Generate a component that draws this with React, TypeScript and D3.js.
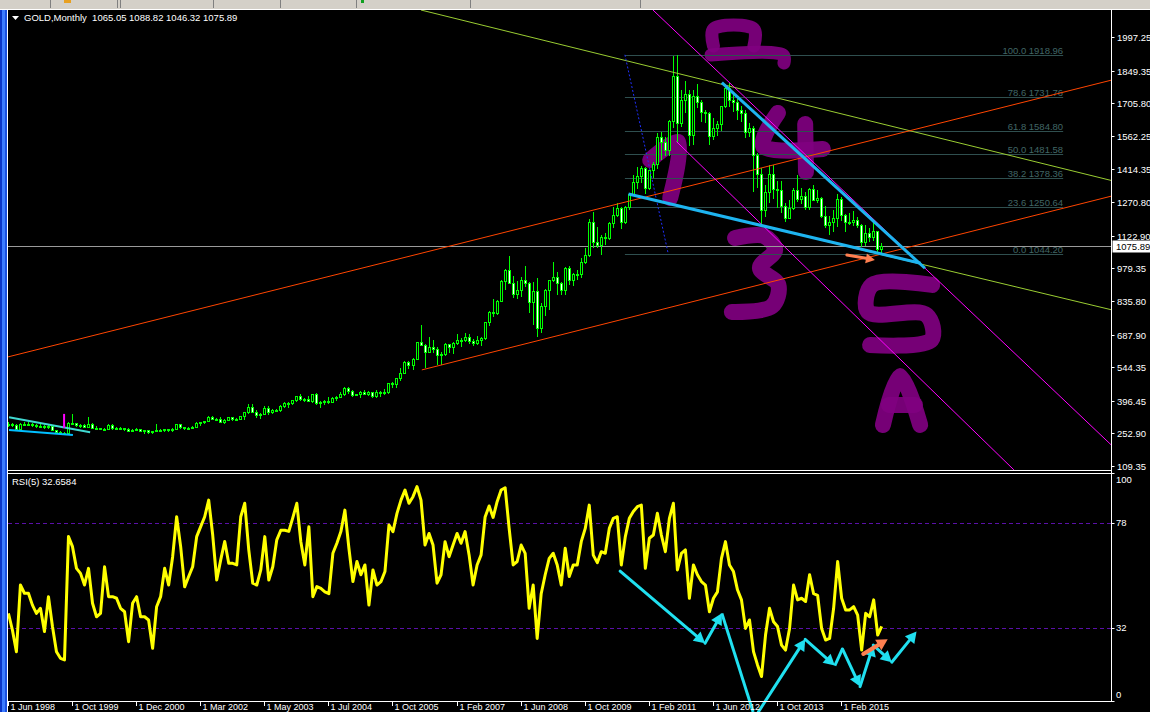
import React, { useEffect, useRef } from 'react';
import * as d3 from 'd3';

const W = 1150;
const H = 712;
const FONT = "'Liberation Sans', Arial, sans-serif";

// x axis labels, one every 16 bars
const dateLabels = [
  '1 Jun 1998', '1 Oct 1999', '1 Dec 2000', '1 Mar 2002', '1 May 2003', '1 Jul 2004', '1 Oct 2005',
  '1 Feb 2007', '1 Jun 2008', '1 Oct 2009', '1 Feb 2011', '1 Jun 2012', '1 Oct 2013', '1 Feb 2015',
];
const priceTicks = [1997.25, 1849.35, 1705.8, 1562.25, 1414.35, 1270.8, 1122.9, 979.35, 835.8, 687.9, 544.35, 396.45, 252.9, 109.35];
const rsiTicks = [100, 78, 32, 0];
const rsiLevels = [78, 32];

// monthly GOLD bars (index 0 = Jun 1998, last = Dec 2015)
const opens = [
  293, 296, 288, 273, 294, 292, 294, 288, 287, 287, 279, 286, 268, 261, 255, 254, 299,
  299, 291, 290, 283, 293, 277, 275, 274, 272, 288, 277, 277, 276, 273, 264, 269,
  273, 265, 267, 258, 264, 267, 269, 270, 266, 273, 293, 279, 275, 277, 282, 297,
  302, 308, 326, 318, 316, 304, 312, 324, 317, 317, 328, 347, 367, 347, 334, 339,
  364, 346, 354, 357, 375, 388, 386, 398, 416, 402, 404, 396, 427, 388, 393, 395,
  391, 407, 415, 428, 453, 438, 422, 426, 435, 428, 435, 417, 435, 429, 433, 473,
  470, 495, 517, 568, 556, 582, 654, 643, 613, 632, 623, 598, 604, 646, 632, 650,
  665, 662, 679, 659, 650, 665, 672, 743, 789, 783, 834, 923, 972, 916, 865, 886,
  928, 914, 832, 880, 718, 815, 882, 928, 942, 916, 883, 979, 927, 955, 955, 1008,
  1040, 1182, 1096, 1081, 1118, 1113, 1180, 1212, 1245, 1181, 1248, 1307, 1359, 1386, 1421, 1333,
  1411, 1439, 1556, 1536, 1500, 1628, 1826, 1620, 1722, 1746, 1566, 1737, 1710, 1669, 1664, 1561,
  1598, 1614, 1692, 1773, 1719, 1713, 1675, 1663, 1579, 1596, 1476, 1393, 1234, 1313, 1396, 1327,
  1323, 1253, 1202, 1244, 1326, 1284, 1296, 1250, 1327, 1282, 1287, 1210, 1171, 1182, 1199, 1283,
  1212, 1183, 1183, 1190, 1172, 1095, 1134, 1115, 1142, 1065.05,
];
const highs = [
  301, 299, 292, 300, 303, 301, 298, 293, 292, 290, 292, 290, 269, 263, 258, 303, 338,
  300, 292, 293, 325, 298, 284, 278, 278, 294, 292, 279, 280, 278, 275, 270, 276,
  273, 268, 269, 265, 293, 272, 274, 272, 278, 294, 294, 282, 281, 285, 301, 304,
  309, 328, 330, 322, 327, 315, 325, 325, 322, 330, 349, 383, 382, 354, 341, 372,
  372, 362, 362, 377, 390, 391, 400, 418, 427, 410, 416, 428, 429, 395, 400, 411,
  413, 419, 434, 456, 456, 443, 428, 439, 446, 438, 436, 442, 438, 448, 476, 479,
  497, 540, 573, 573, 585, 654, 730, 645, 677, 663, 634, 610, 650, 648, 657, 690,
  673, 693, 690, 668, 683, 675, 745, 790, 845, 841, 930, 976, 1033, 944, 924, 941,
  988, 917, 919, 935, 825, 889, 930, 1006, 961, 917, 983, 990, 960, 970, 1024, 1070,
  1195, 1227, 1162, 1128, 1135, 1181, 1249, 1266, 1247, 1254, 1308, 1388, 1424, 1431, 1424, 1411,
  1447, 1575, 1577, 1556, 1632, 1912, 1918.96, 1764, 1803, 1763, 1764, 1792, 1720, 1676, 1668, 1641,
  1629, 1695, 1790, 1796, 1755, 1723, 1694, 1676, 1617, 1605, 1487, 1420, 1348, 1433, 1434, 1362,
  1362, 1267, 1279, 1332, 1392, 1331, 1315, 1332, 1345, 1322, 1291, 1255, 1209, 1238, 1307, 1293,
  1220, 1224, 1232, 1204, 1174, 1170, 1157, 1191, 1142, 1088.82,
];
const lows = [
  285, 285, 272, 273, 288, 290, 285, 283, 283, 278, 278, 266, 256, 252, 252, 252, 294,
  287, 280, 281, 282, 276, 270, 272, 268, 270, 274, 270, 273, 268, 263, 263, 268,
  263, 255, 255, 256, 263, 265, 265, 265, 264, 271, 277, 270, 271, 276, 281, 288,
  299, 306, 314, 313, 302, 300, 310, 311, 314, 316, 317, 343, 346, 323, 319, 337,
  339, 342, 350, 351, 371, 370, 381, 394, 399, 397, 396, 390, 384, 371, 382, 387,
  389, 398, 413, 424, 432, 418, 420, 411, 425, 422, 414, 414, 418, 428, 432, 457,
  458, 488, 517, 541, 537, 581, 640, 543, 610, 612, 560, 560, 597, 609, 607, 648,
  637, 661, 649, 640, 648, 643, 669, 730, 768, 779, 834, 888, 915, 853, 848, 858,
  901, 786, 736, 681, 701, 772, 802, 924, 866, 865, 867, 910, 905, 932, 941, 1003,
  1034, 1075, 1071, 1044.2, 1087, 1110, 1163, 1208, 1157, 1178, 1242, 1305, 1334, 1360, 1309, 1329,
  1381, 1419, 1462, 1478, 1478, 1600, 1535, 1604, 1669, 1523, 1527, 1689, 1628, 1625, 1527, 1547,
  1565, 1587, 1691, 1693, 1672, 1636, 1627, 1555, 1562, 1321, 1338, 1180, 1208, 1270, 1290, 1251,
  1227, 1187, 1202, 1239, 1277, 1268, 1240, 1240, 1282, 1273, 1207, 1160, 1131, 1142, 1167, 1191,
  1142, 1175, 1169, 1162, 1077, 1080, 1098, 1106, 1052, 1046.32,
];
const closes = [
  296, 288, 273, 294, 292, 294, 288, 287, 287, 279, 286, 268, 261, 255, 254, 299, 299,
  291, 290, 283, 293, 277, 275, 274, 272, 288, 277, 277, 276, 273, 264, 269, 273,
  265, 267, 258, 264, 267, 269, 270, 266, 273, 293, 279, 275, 277, 282, 297, 302,
  308, 326, 318, 316, 304, 312, 324, 317, 317, 328, 347, 367, 347, 334, 339, 364,
  346, 354, 357, 375, 388, 386, 398, 416, 402, 404, 396, 427, 388, 393, 395, 391,
  407, 415, 428, 453, 438, 422, 426, 435, 428, 435, 417, 435, 429, 433, 473, 470,
  495, 517, 568, 556, 582, 654, 643, 613, 632, 623, 598, 604, 646, 632, 650, 665,
  662, 679, 659, 650, 665, 672, 743, 789, 783, 834, 923, 972, 916, 865, 886, 928,
  914, 832, 880, 718, 815, 882, 928, 942, 916, 883, 979, 927, 955, 955, 1008, 1040,
  1182, 1096, 1081, 1118, 1113, 1180, 1212, 1245, 1181, 1248, 1307, 1359, 1386, 1421, 1333, 1411,
  1439, 1556, 1536, 1500, 1628, 1826, 1620, 1722, 1746, 1566, 1737, 1710, 1669, 1664, 1561, 1598,
  1614, 1692, 1773, 1719, 1713, 1675, 1663, 1579, 1596, 1476, 1393, 1234, 1313, 1396, 1327, 1323,
  1253, 1202, 1244, 1326, 1284, 1296, 1250, 1327, 1282, 1287, 1210, 1171, 1182, 1199, 1283, 1212,
  1183, 1183, 1190, 1172, 1095, 1134, 1115, 1142, 1065, 1075.89,
];

// RSI(5)
const rsiValues = [
  38.4, 31.1, 21.6, 50.8, 47.2, 47.2, 42, 38.4, 40.6, 30.4, 45.7, 32.6, 21.6, 18.7, 18, 72, 67.6,
  58.1, 55.9, 50.8, 58.1, 42.8, 36.9, 38.4, 58.8, 45.7, 45.7, 45, 40.6, 39.1, 26, 42.8, 45.7,
  36.9, 36.9, 35.5, 23.1, 41.3, 45.7, 58.1, 50.8, 63.2, 80.7, 67.6, 50, 54.5, 58.8, 72, 76.4,
  80.7, 88, 72.7, 53, 61.8, 69.9, 60.3, 60.3, 59.6, 80.7, 86.6, 66.2, 51.6, 50.8, 57.4, 72,
  53, 58.8, 70.6, 74.8, 74.8, 74.3, 80.3, 86.6, 69.8, 59.6, 76.3, 45.7, 50.1, 49.3, 47.8, 47,
  64.7, 69.1, 74.2, 83.6, 66.9, 52.3, 61.1, 55.3, 59.6, 42, 57.4, 50.8, 52.3, 56.7, 77.1, 74.2,
  82.2, 88, 92.4, 86.6, 89.5, 93.9, 88, 68.3, 73.4, 68.3, 51.6, 55.3, 69.8, 63.2, 68.3, 73.4,
  69.1, 74.2, 64, 50.8, 59.6, 64, 80.6, 85.4, 80.4, 87.3, 92.4, 93.4, 75.6, 59.6, 61.1, 68.3,
  64.7, 40.6, 50.8, 27.4, 47, 55.3, 62.5, 64.7, 59.6, 50.8, 66.9, 54.5, 59.6, 59.6, 69.8, 75.6,
  85.8, 63.9, 60.6, 65.4, 64.7, 75.6, 80, 80.7, 59.6, 72, 80, 83, 85.1, 85.8, 58.1, 71.3,
  72.7, 82.2, 72.7, 65.4, 80, 86.6, 57.4, 64.7, 66.2, 45, 59.6, 55.3, 52.3, 50.8, 39.1, 45,
  47.8, 62.5, 69.8, 59.6, 56.7, 48.7, 44.3, 31.8, 35.5, 21.6, 15.8, 10.7, 28.9, 40.6, 34.7, 32.6,
  24.5, 22.3, 31.8, 50.8, 44.3, 45, 43.6, 55.3, 47, 46.3, 31.8, 26.7, 27.4, 40.6, 61.1, 45,
  39.9, 39.9, 41.3, 37.6, 22.3, 38.4, 36.9, 44.3, 28.9, 32.66,
];

const fibRatios = ['100.0', '78.6', '61.8', '50.0', '38.2', '23.6', '0.0'];
const fibPrices = [1918.96, 1731.76, 1584.8, 1481.58, 1378.36, 1250.64, 1044.2];
const fibSpan = [153.9, 263.3];
const lastPrice = 1075.89;

// hand drawn objects, as [bar index, price] (or [bar index, rsi] in the lower pane)
type Pt = [number, number];
const yellowUpper: Pt[] = [[103, 2116], [275.5, 1365]];
const yellowLower: Pt[] = [[154.9, 1306.5], [275.5, 796.2]];
const redUpper: Pt[] = [[-0.1, 589.4], [275.5, 1808.1]];
const redLower: Pt[] = [[103.2, 532.2], [275.5, 1297.7]];
const magentaUpper: Pt[] = [[160.9, 2116], [275.5, 198.7]];
const magentaLower: Pt[] = [[166.8, 1536.6], [251, 92.2]];
const fibTrend: Pt[] = [[153.9, 1918.96], [164.7, 1044.2]];
const wedgeUpper: Pt[] = [[178.1, 1796.2], [228.8, 979.6]];
const wedgeLower: Pt[] = [[154.8, 1306.5], [227.7, 1001.6]];
const earlyUpper: Pt[] = [[0.15, 324.1], [20.4, 258.1]];
const earlyLower: Pt[] = [[0.15, 268.2], [16.1, 246.2]];
const earlyMark: Pt[] = [[13.9, 338.6], [13.9, 277]];
const priceArrow: Pt[] = [[209.3, 1038.2], [216.3, 1016.2]];

const letterStrokes: Pt[][] = [
  [[176.0, 1957.7], [176.0, 2032.4], [186.1, 2032.4], [186.1, 1957.7]],
  [[175.4, 1918.1], [193.4, 1918.1], [193.6, 1882.9]],
  [[160.2, 1456.1], [167.2, 1535.3], [165.2, 1289.0]],
  [[192.1, 1662.9], [188.4, 1517.7], [203.3, 1504.5]],
  [[198.9, 1614.5], [199.1, 1403.3]],
  [[181.4, 1112.9], [188.6, 1121.7], [191.4, 1060.2], [187.6, 981.0], [192.2, 906.2], [190.6, 812.2], [180.6, 787.4]],
  [[230.6, 906.2], [215.6, 906.2], [214.6, 787.4], [229.2, 774.2], [230.4, 664.2], [215.1, 642.2]],
  [[218.3, 290.2], [222.6, 505.8], [227.6, 290.2]],
  [[219.8, 378.2], [226.3, 378.2]],
];

const rsiWaveA: Pt[] = [[152.7, 56.9], [173.9, 25.3], [178.1, 38.4], [185.9, -4.8]];
const rsiWaveAHeads = [true, true, false];
const rsiWaveB: Pt[] = [[187.2, -4.8], [198.9, 27.0], [206.3, 15.5], [208.2, 22.8], [212.6, 6.3], [215.9, 24.5], [220.5, 17.0], [226.7, 30.4]];
const rsiWaveBHeads = [true, true, false, true, true, true, true];
const rsiArrow: Pt[] = [[213.4, 20.6], [219.5, 27.0]];

const App: React.FC = () => {
  const svgRef = useRef<SVGSVGElement | null>(null);

  useEffect(() => {
    if (!svgRef.current) return;
    const svg = d3.select(svgRef.current);
    svg.selectAll('*').remove();

    const left = 8;
    const axisX = 1111.5;
    const mainTop = 10;
    const mainBottom = 470;
    const rsiTop = 474;
    const rsiBottom = 701;

    const x = d3.scaleLinear().domain([0, opens.length - 1]).range([8.4, 881.7]);
    const y = d3.scaleLinear().domain([109.35, 1997.25]).range([466, 37]);
    const ry = d3.scaleLinear().domain([0, 100]).range([701, 472.7]);

    // background + window chrome
    svg.append('rect').attr('width', W).attr('height', H).attr('fill', '#000');
    svg.append('rect').attr('width', W).attr('height', 9).attr('fill', '#d4d0c8');
    [50, 117, 120, 213, 280, 356, 470, 640].forEach(sx => {
      svg.append('line').attr('x1', sx + 0.5).attr('x2', sx + 0.5).attr('y1', 0).attr('y2', 8)
        .attr('stroke', '#808080');
    });
    svg.append('rect').attr('x', 64).attr('y', 0).attr('width', 7).attr('height', 3).attr('fill', '#e8a020');
    svg.append('rect').attr('x', 361).attr('y', 0).attr('width', 3).attr('height', 3).attr('fill', '#10a020');
    svg.append('line').attr('x1', 0).attr('x2', W).attr('y1', 9.5).attr('y2', 9.5).attr('stroke', '#fff');
    svg.append('rect').attr('x', 0).attr('y', 10).attr('width', 2).attr('height', H).attr('fill', '#0a36c8');
    svg.append('rect').attr('x', 2).attr('y', 10).attr('width', 3).attr('height', H).attr('fill', '#3c7cff');
    svg.append('rect').attr('x', 5).attr('y', 10).attr('width', 2).attr('height', H).attr('fill', '#1850e0');
    svg.append('line').attr('x1', 7.5).attr('x2', 7.5).attr('y1', 10).attr('y2', H).attr('stroke', '#fff');

    const defs = svg.append('defs');
    defs.append('clipPath').attr('id', 'clip-main').append('rect')
      .attr('x', left).attr('y', mainTop).attr('width', axisX - left).attr('height', mainBottom - mainTop);
    defs.append('clipPath').attr('id', 'clip-rsi').append('rect')
      .attr('x', left).attr('y', rsiTop).attr('width', axisX - left).attr('height', rsiBottom - rsiTop);
    defs.append('clipPath').attr('id', 'clip-all').append('rect')
      .attr('x', left).attr('y', rsiTop).attr('width', axisX - left).attr('height', H - rsiTop);

    const main = svg.append('g').attr('clip-path', 'url(#clip-main)');
    const toXY = (p: Pt): [number, number] => [x(p[0]), y(p[1])];
    const toRsi = (p: Pt): [number, number] => [x(p[0]), ry(p[1])];

    // painted wave letters (background)
    const letterLine = d3.line<[number, number]>().curve(d3.curveCatmullRom.alpha(0.5));
    letterStrokes.forEach((s, k) => {
      main.append('path')
        .attr('d', letterLine(s.map(toXY)))
        .attr('fill', 'none')
        .attr('stroke', '#800080')
        .attr('stroke-width', k < 2 ? 13 : 16)
        .attr('stroke-linecap', 'round')
        .attr('stroke-linejoin', 'round')
        .attr('opacity', 0.92);
    });

    // fibonacci levels
    fibPrices.forEach((p, k) => {
      const yy = Math.round(y(p)) + 0.5;
      main.append('line')
        .attr('x1', x(fibSpan[0])).attr('x2', x(fibSpan[1]))
        .attr('y1', yy).attr('y2', yy)
        .attr('stroke', '#2f4f4f');
      main.append('text')
        .attr('x', x(fibSpan[1])).attr('y', yy - 2)
        .attr('text-anchor', 'end')
        .attr('fill', '#416666')
        .attr('font-family', FONT).attr('font-size', 9.5)
        .text(`${fibRatios[k]} ${p.toFixed(2)}`);
    });

    // bid line
    const bidY = Math.round(y(lastPrice)) + 0.5;
    main.append('line').attr('x1', left).attr('x2', axisX).attr('y1', bidY).attr('y2', bidY).attr('stroke', '#9a9a9a');

    // candles
    const cg = main.append('g').attr('shape-rendering', 'crispEdges');
    opens.forEach((o, i) => {
      const c = closes[i];
      const cx = Math.floor(x(i)) + 0.5;
      const yh = Math.round(y(highs[i]));
      const yl = Math.round(y(lows[i]));
      cg.append('line').attr('x1', cx).attr('x2', cx).attr('y1', yh).attr('y2', yl + 1).attr('stroke', '#00ff00');
      const t = Math.round(y(Math.max(o, c)));
      const b = Math.round(y(Math.min(o, c)));
      cg.append('rect')
        .attr('x', cx - 1).attr('y', t + 0.5)
        .attr('width', 2).attr('height', Math.max(1, b - t))
        .attr('fill', c >= o ? '#000' : '#fff')
        .attr('stroke', '#00ff00');
    });

    const seg = (g: any, pts: [number, number][], color: string, w: number, dash?: string) => {
      const l = g.append('line')
        .attr('x1', pts[0][0]).attr('y1', pts[0][1])
        .attr('x2', pts[1][0]).attr('y2', pts[1][1])
        .attr('stroke', color).attr('stroke-width', w);
      if (dash) l.attr('stroke-dasharray', dash);
    };
    const arrow = (g: any, a: [number, number], b: [number, number], color: string, w: number, head: number) => {
      const ang = Math.atan2(b[1] - a[1], b[0] - a[0]);
      const bx = b[0] - head * Math.cos(ang);
      const by = b[1] - head * Math.sin(ang);
      const hw = head * 0.55;
      g.append('line').attr('x1', a[0]).attr('y1', a[1]).attr('x2', bx).attr('y2', by)
        .attr('stroke', color).attr('stroke-width', w).attr('stroke-linecap', 'round');
      g.append('path')
        .attr('d', `M${b[0]},${b[1]}L${bx + hw * Math.sin(ang)},${by - hw * Math.cos(ang)}L${bx - hw * Math.sin(ang)},${by + hw * Math.cos(ang)}Z`)
        .attr('fill', color);
    };

    // trend lines and channels
    seg(main, yellowUpper.map(toXY), '#9acd32', 1);
    seg(main, yellowLower.map(toXY), '#9acd32', 1);
    seg(main, redUpper.map(toXY), '#ff4500', 1);
    seg(main, redLower.map(toXY), '#ff4500', 1);
    seg(main, magentaUpper.map(toXY), '#ff00ff', 1);
    seg(main, magentaLower.map(toXY), '#ff00ff', 1);
    seg(main, fibTrend.map(toXY), '#2030ff', 1, '2,2');
    seg(main, wedgeLower.map(toXY), '#1eb4f0', 3);
    seg(main, wedgeUpper.map(toXY), '#1eb4f0', 3);
    seg(main, earlyUpper.map(toXY), '#40d8d0', 2);
    seg(main, earlyLower.map(toXY), '#00bfff', 2);
    seg(main, earlyMark.map(toXY), '#ff00ff', 2);
    arrow(main, toXY(priceArrow[0]), toXY(priceArrow[1]), '#ff7f50', 3, 9);

    // header
    svg.append('path').attr('d', 'M12,16L19,16L15.5,20Z').attr('fill', '#fff');
    svg.append('text').attr('x', 24).attr('y', 21).attr('fill', '#fff')
      .attr('font-family', FONT).attr('font-size', 9.5).attr('xml:space', 'preserve')
      .text('GOLD,Monthly  1065.05 1088.82 1046.32 1075.89');

    // RSI pane
    const rg = svg.append('g').attr('clip-path', 'url(#clip-rsi)');
    rsiLevels.forEach(v => {
      const yy = Math.round(ry(v)) + 0.5;
      rg.append('line').attr('x1', left).attr('x2', axisX).attr('y1', yy).attr('y2', yy)
        .attr('stroke', '#5a10a8').attr('stroke-dasharray', '4,3');
    });
    const rsiLine = d3.line<number>().x((_, i) => x(i)).y(v => ry(v));
    rg.append('path').attr('d', rsiLine(rsiValues)).attr('fill', 'none')
      .attr('stroke', '#ffff00').attr('stroke-width', 3).attr('stroke-linejoin', 'round');
    svg.append('text').attr('x', 12).attr('y', 485).attr('fill', '#fff')
      .attr('font-family', FONT).attr('font-size', 9.5).text('RSI(5) 32.6584');

    const ag = svg.append('g').attr('clip-path', 'url(#clip-all)');
    const drawWave = (pts: Pt[], heads: boolean[]) => {
      for (let k = 0; k < pts.length - 1; k++) {
        const a = toRsi(pts[k]);
        const b = toRsi(pts[k + 1]);
        if (heads[k]) arrow(ag, a, b, '#20e0f0', 3, 11);
        else seg(ag, [a, b], '#20e0f0', 3);
      }
    };
    drawWave(rsiWaveA, rsiWaveAHeads);
    drawWave(rsiWaveB, rsiWaveBHeads);
    arrow(ag, toRsi(rsiArrow[0]), toRsi(rsiArrow[1]), '#ff7f50', 4, 11);

    // frames
    const frame = svg.append('g').attr('stroke', '#fff').attr('shape-rendering', 'crispEdges');
    frame.append('line').attr('x1', axisX).attr('x2', axisX).attr('y1', 10).attr('y2', rsiBottom);
    frame.append('line').attr('x1', left).attr('x2', axisX).attr('y1', mainBottom + 0.5).attr('y2', mainBottom + 0.5);
    frame.append('line').attr('x1', left).attr('x2', axisX).attr('y1', rsiTop - 0.5).attr('y2', rsiTop - 0.5);
    frame.append('line').attr('x1', left).attr('x2', axisX).attr('y1', rsiBottom + 0.5).attr('y2', rsiBottom + 0.5);

    // price axis
    priceTicks.forEach(p => {
      const yy = Math.round(y(p)) + 0.5;
      svg.append('line').attr('x1', axisX).attr('x2', axisX + 3).attr('y1', yy).attr('y2', yy).attr('stroke', '#fff');
      svg.append('text').attr('x', 1117).attr('y', yy + 3.5).attr('fill', '#fff')
        .attr('font-family', FONT).attr('font-size', 9.5).text(p.toFixed(2));
    });
    svg.append('rect').attr('x', 1112.5).attr('y', bidY - 6).attr('width', 38).attr('height', 12).attr('fill', '#fff');
    svg.append('text').attr('x', 1116).attr('y', bidY + 3.5).attr('fill', '#000')
      .attr('font-family', FONT).attr('font-size', 9.5).text(lastPrice.toFixed(2));

    // rsi axis
    rsiTicks.forEach(v => {
      const yy = Math.min(694, Math.max(479, ry(v)));
      svg.append('line').attr('x1', axisX).attr('x2', axisX + 3).attr('y1', Math.round(ry(v)) + 0.5).attr('y2', Math.round(ry(v)) + 0.5).attr('stroke', '#fff');
      svg.append('text').attr('x', 1116).attr('y', yy + 3.5).attr('fill', '#fff')
        .attr('font-family', FONT).attr('font-size', 9.5).text(String(v));
    });

    // date axis
    dateLabels.forEach((lab, k) => {
      const tx = Math.floor(x(k * 16)) + 0.5;
      svg.append('line').attr('x1', tx).attr('x2', tx).attr('y1', rsiBottom).attr('y2', rsiBottom + 5).attr('stroke', '#fff');
      svg.append('text').attr('x', tx + 2).attr('y', 710).attr('fill', '#fff')
        .attr('font-family', FONT).attr('font-size', 9).text(lab);
    });
  }, []);

  return (
    <svg
      ref={svgRef}
      width={W}
      height={H}
      style={{ position: 'absolute', left: 0, top: 0, display: 'block' }}
    />
  );
};

export default App;
